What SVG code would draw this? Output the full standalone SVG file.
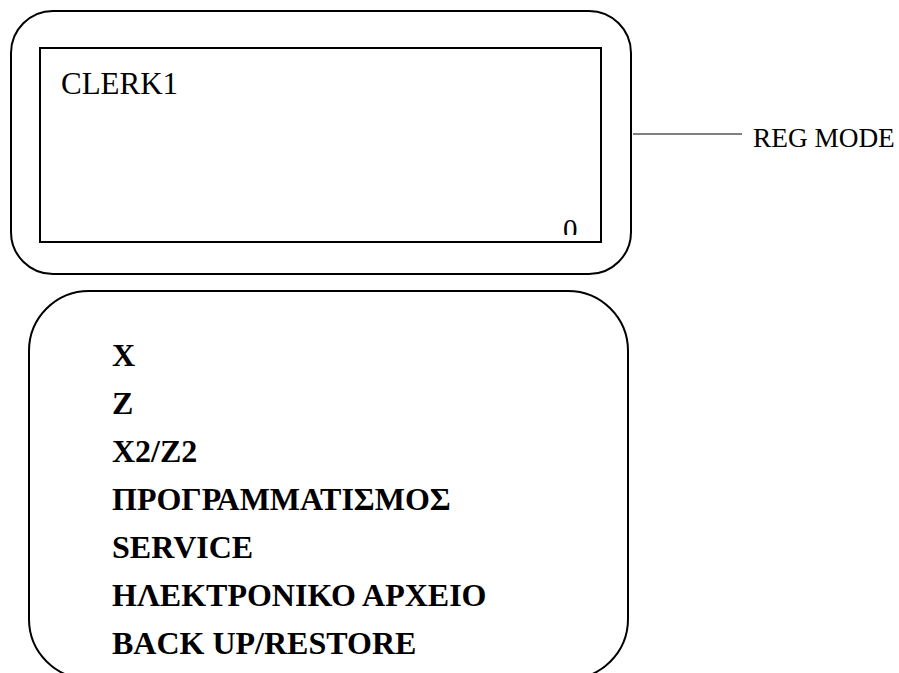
<svg xmlns="http://www.w3.org/2000/svg" width="899" height="673" viewBox="0 0 899 673">
<style>
.shape{fill:none;stroke:#000;stroke-width:2}
.t{font-family:"Liberation Serif","Times New Roman",serif;fill:#000}
.b{font-family:"Liberation Serif","Times New Roman",serif;font-weight:bold;font-size:32px;fill:#000}
</style>
<defs>
<clipPath id="zc"><rect x="540" y="200" width="60" height="35"/></clipPath>
</defs>
<rect width="899" height="673" fill="#fff"/>
<g id="display">
<rect class="shape" x="11" y="11" width="620" height="263" rx="42" ry="42"/>
<rect class="shape" x="40" y="48" width="561" height="194"/>
<text class="t" x="61" y="94" font-size="31">CLERK1</text>
<text class="t" x="563" y="239" font-size="29" clip-path="url(#zc)">0</text>
</g>
<g id="connectors">
<line x1="633" y1="134" x2="742" y2="134" stroke="#000" stroke-width="1"/>
</g>
<g id="label">
<text class="t" x="753" y="147" font-size="27.3">REG MODE</text>
</g>
<g id="menu">
<rect class="shape" x="29" y="291" width="599" height="388" rx="60" ry="60"/>
<text class="b" x="112" y="366">X</text>
<text class="b" x="112" y="414">Z</text>
<text class="b" x="112" y="462">X2/Z2</text>
<text class="b" x="112" y="510">ΠΡΟΓΡΑΜΜΑΤΙΣΜΟΣ</text>
<text class="b" x="112" y="558">SERVICE</text>
<text class="b" x="112" y="606">ΗΛΕΚΤΡΟΝΙΚΟ ΑΡΧΕΙΟ</text>
<text class="b" x="112" y="654">BACK UP/RESTORE</text>
</g>
</svg>
